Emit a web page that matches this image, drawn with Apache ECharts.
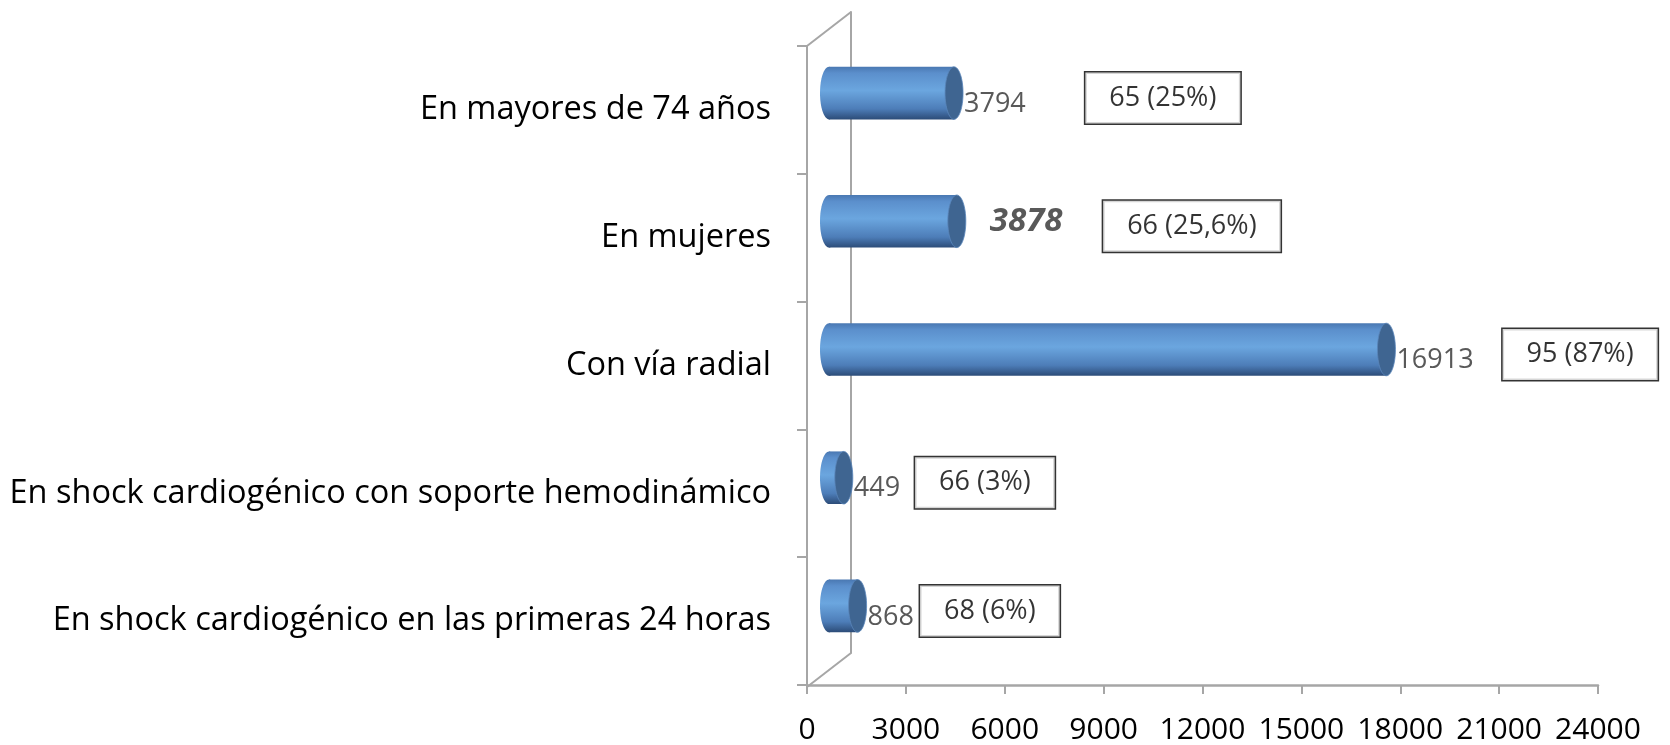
<!DOCTYPE html>
<html>
<head>
<meta charset="utf-8">
<script src="https://cdn.jsdelivr.net/npm/echarts@6/dist/echarts.min.js"></script>
<style>
  html, body { margin: 0; padding: 0; background: #ffffff; }
  #chart { width: 1670px; height: 745px; }
</style>
</head>
<body>
<div id="chart"></div>
<script>
// datos
const categories = [
  'En mayores de 74 años',
  'En mujeres',
  'Con vía radial',
  'En shock cardiogénico con soporte hemodinámico',
  'En shock cardiogénico en las primeras 24 horas'
];
const values = [3794, 3878, 16913, 449, 868];
const boxTexts = ['65 (25%)', '66 (25,6%)', '95 (87%)', '66 (3%)', '68 (6%)'];
const xTicks = [0, 3000, 6000, 9000, 12000, 15000, 18000, 21000, 24000];

// posición de los recuadros (en unidades del eje x)
const boxX = [10130, 11010, 22790, 4730, 4880];
// etiqueta destacada (negrita cursiva)
const boldLabel = [false, true, false, false, false];

// marco 3D
const G = { left: 807, top: 46, width: 791, height: 641 };
const DX = 44, DY = -34;
const frameColor = '#a6a6a6';
const font = 'Open Sans';

const chart = echarts.init(document.getElementById('chart'));

function renderCylinder(params, api) {
  const idx = params.dataIndex;
  const val = api.value(0);
  const cat = api.value(1);
  const start = api.coord([0, cat]);
  const end = api.coord([val, cat]);
  const bandH = api.size([0, 1])[1];
  const h = bandH * 0.41;
  const ry = h / 2, rx = 9;
  const x0 = start[0], x1 = end[0], cy = start[1];
  const bodyFill = new echarts.graphic.LinearGradient(0, 0, 0, 1, [
    { offset: 0, color: '#4a78b2' },
    { offset: 0.12, color: '#5b8fcc' },
    { offset: 0.45, color: '#6ba6df' },
    { offset: 0.8, color: '#4d7db8' },
    { offset: 1, color: '#2c4c78' }
  ]);
  const bold = boldLabel[idx];
  return {
    type: 'group',
    children: [
      { type: 'ellipse', shape: { cx: x0, cy: cy, rx: rx, ry: ry }, style: { fill: bodyFill } },
      { type: 'rect', shape: { x: x0, y: cy - ry, width: Math.max(x1 - x0, 0), height: h }, style: { fill: bodyFill } },
      { type: 'ellipse', shape: { cx: x1, cy: cy, rx: rx, ry: ry }, style: { fill: '#3f6591', stroke: '#5b86bb', lineWidth: 0.8 } },
      {
        type: 'text',
        x: x1 + rx + (bold ? 24 : 1),
        y: cy + (bold ? 0 : 11),
        style: {
          text: String(values[idx]),
          fill: '#595959',
          font: (bold ? 'italic bold 33px ' : '27px ') + font,
          align: 'left',
          verticalAlign: 'middle'
        }
      }
    ]
  };
}

const gL = G.left, gT = G.top, gB = G.top + G.height;

chart.setOption({
  animation: false,
  textStyle: { fontFamily: font },
  grid: [
    { left: G.left, top: G.top, width: G.width, height: G.height },
    { left: G.left + DX / 2, top: G.top + DY / 2, width: G.width, height: G.height },
    { left: G.left + DX, top: G.top + DY, width: G.width, height: G.height }
  ],
  xAxis: [
    {
      gridIndex: 0, type: 'value', min: xTicks[0], max: xTicks[xTicks.length - 1], interval: 3000,
      axisLine: { show: true, lineStyle: { color: frameColor, width: 2.5 } },
      axisTick: { show: true, length: 9, lineStyle: { color: frameColor, width: 2 } },
      axisLabel: { color: '#000', fontSize: 30, margin: 30, fontFamily: font, formatter: v => String(v) },
      splitLine: { show: false }
    },
    { gridIndex: 1, type: 'value', min: 0, max: 24000, show: false },
    { gridIndex: 2, type: 'value', min: 0, max: 24000, show: false }
  ],
  yAxis: [
    {
      gridIndex: 0, type: 'category', data: categories, inverse: true,
      axisLine: { show: true, lineStyle: { color: frameColor, width: 2 } },
      axisTick: { show: true, length: 10, lineStyle: { color: frameColor, width: 2 } },
      axisLabel: { color: '#000', fontSize: 32.5, margin: 36, fontFamily: font }
    },
    { gridIndex: 1, type: 'category', data: categories, inverse: true, show: false },
    {
      gridIndex: 2, type: 'category', data: categories, inverse: true,
      axisLine: { show: true, lineStyle: { color: frameColor, width: 2 } },
      axisTick: { show: false }, axisLabel: { show: false }
    }
  ],
  graphic: [
    { type: 'line', shape: { x1: gL, y1: gT, x2: gL + DX, y2: gT + DY }, style: { stroke: frameColor, lineWidth: 2 } },
    { type: 'line', shape: { x1: gL, y1: gB, x2: gL + DX, y2: gB + DY }, style: { stroke: frameColor, lineWidth: 2 } }
  ],
  series: [
    {
      type: 'custom',
      xAxisIndex: 1, yAxisIndex: 1,
      renderItem: renderCylinder,
      encode: { x: 0, y: 1 },
      data: values.map((v, i) => [v, i]),
      z: 3
    },
    {
      type: 'scatter',
      xAxisIndex: 1, yAxisIndex: 1,
      symbolSize: 1,
      itemStyle: { color: 'transparent' },
      data: boxX.map((x, i) => [x, i]),
      label: {
        show: true, position: 'inside', offset: [0, 5],
        formatter: p => boxTexts[p.dataIndex],
        color: '#000', fontSize: 27, fontFamily: font,
        backgroundColor: '#fff', borderColor: '#000', borderWidth: 1.5,
        padding: [12, 24]
      },
      z: 4
    }
  ]
});
</script>
</body>
</html>
